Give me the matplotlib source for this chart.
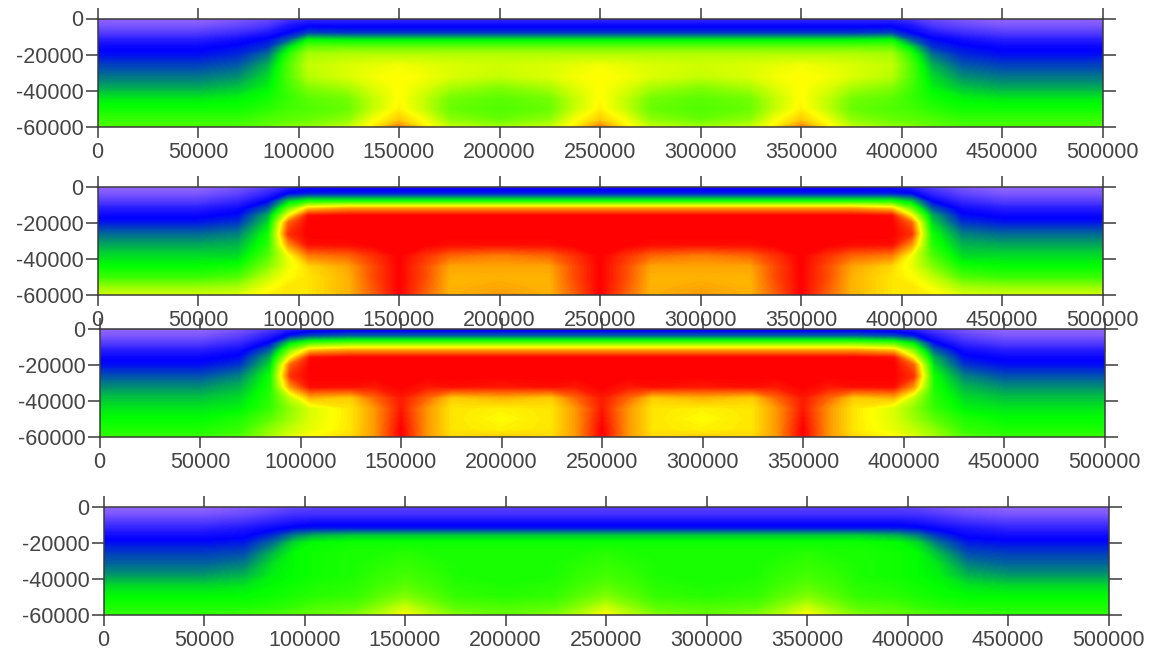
import matplotlib
matplotlib.use('Agg')
import matplotlib.pyplot as plt
from matplotlib.colors import LinearSegmentedColormap
import numpy as np

plt.rcParams['font.family'] = ['Liberation Sans', 'DejaVu Sans']
plt.rcParams['axes.unicode_minus'] = False

# x nodes of the grid, depth nodes of the grid
x_nodes = [0, 50000, 70000, 85000, 95000, 105000, 125000, 137000, 150000, 163000, 175000, 200000,
           225000, 237000, 250000, 263000, 275000, 300000, 325000, 337000, 350000, 363000, 375000,
           395000, 405000, 415000, 430000, 450000, 500000]
z_nodes = [0, -4000, -8000, -12000, -16000, -20000, -26000, -32000, -38000, -44000, -50000, -56000, -60000]

# which profile sits at each x node
column_names = ['edge', 'edge', 'f70', 'f85', 'f95', 'f105', 'near', 'side', 'hump', 'side', 'near', 'trough',
                'near', 'side', 'hump', 'side', 'near', 'trough', 'near', 'side', 'hump', 'side', 'near',
                'f105', 'f95', 'f85', 'f70', 'edge', 'edge']

# values: 0 purple, 1 blue, 2 green, 3 yellow, 4 red
panel1 = {
    'edge':   [.05, .20, .45, .75, .95, 1.05, 1.25, 1.45, 1.65, 1.9, 2.05, 2.2, 2.3],
    'f70':    [.15, .35, .60, .90, 1.05, 1.15, 1.35, 1.55, 1.75, 1.95, 2.05, 2.2, 2.3],
    'f85':    [.30, .50, .80, 1.05, 1.2, 1.45, 1.7, 1.85, 1.95, 2.05, 2.15, 2.3, 2.4],
    'f95':    [.50, .80, 1.0, 1.35, 1.85, 2.15, 2.3, 2.3, 2.25, 2.2, 2.25, 2.35, 2.5],
    'f105':   [.60, .95, 1.25, 2.0, 2.4, 2.65, 2.75, 2.7, 2.5, 2.35, 2.3, 2.4, 2.55],
    'near':   [.60, .95, 1.2, 1.95, 2.4, 2.7, 2.85, 2.85, 2.65, 2.45, 2.4, 2.55, 2.75],
    'side':   [.60, .95, 1.2, 1.95, 2.4, 2.7, 2.9, 2.95, 2.85, 2.75, 2.75, 2.95, 3.05],
    'hump':   [.60, .95, 1.2, 1.95, 2.4, 2.7, 2.95, 3.0, 3.0, 3.0, 3.05, 3.2, 3.5],
    'trough': [.60, .95, 1.2, 1.95, 2.4, 2.7, 2.8, 2.75, 2.5, 2.35, 2.3, 2.4, 2.6],
}
panel2 = {
    'edge':   [.05, .20, .45, .75, .95, 1.1, 1.4, 1.65, 1.85, 2.0, 2.2, 2.6, 2.8],
    'f70':    [.20, .40, .65, .90, 1.05, 1.2, 1.5, 1.7, 1.85, 2.05, 2.3, 2.65, 2.85],
    'f85':    [.45, .70, 1.0, 1.35, 1.7, 1.85, 2.05, 2.15, 2.3, 2.5, 2.75, 2.95, 3.05],
    'f95':    [.70, 1.05, 1.8, 2.4, 3.0, 3.6, 3.8, 3.4, 2.95, 2.9, 3.0, 3.1, 3.1],
    'f105':   [.80, 1.15, 2.1, 3.2, 3.95, 4.0, 4.0, 3.95, 3.5, 3.15, 3.1, 3.1, 3.1],
    'near':   [.85, 1.15, 2.1, 3.4, 4.0, 4.0, 4.0, 3.95, 3.6, 3.35, 3.3, 3.3, 3.3],
    'side':   [.85, 1.15, 2.1, 3.4, 4.0, 4.0, 4.0, 4.0, 3.8, 3.7, 3.7, 3.65, 3.6],
    'hump':   [.85, 1.15, 2.1, 3.4, 4.0, 4.0, 4.0, 4.0, 4.0, 4.0, 4.0, 4.0, 4.0],
    'trough': [.85, 1.15, 2.1, 3.4, 4.0, 4.0, 4.0, 3.95, 3.5, 3.35, 3.3, 3.35, 3.4],
}
panel3 = {
    'edge':   [.05, .20, .45, .75, .95, 1.05, 1.3, 1.55, 1.75, 1.9, 2.0, 2.1, 2.2],
    'f70':    [.20, .40, .65, .90, 1.05, 1.2, 1.5, 1.7, 1.85, 1.95, 2.1, 2.2, 2.3],
    'f85':    [.45, .75, 1.05, 1.4, 1.7, 1.85, 2.05, 2.1, 2.15, 2.2, 2.35, 2.55, 2.65],
    'f95':    [.70, 1.1, 1.9, 2.5, 3.0, 3.6, 3.8, 3.4, 2.75, 2.55, 2.6, 2.75, 2.85],
    'f105':   [.80, 1.3, 2.3, 3.25, 3.95, 4.0, 4.0, 3.95, 3.3, 2.85, 2.85, 2.9, 3.0],
    'near':   [.85, 1.4, 2.4, 3.4, 4.0, 4.0, 4.0, 3.95, 3.2, 3.1, 3.1, 3.1, 3.15],
    'side':   [.85, 1.4, 2.4, 3.4, 4.0, 4.0, 4.0, 3.9, 3.6, 3.4, 3.4, 3.4, 3.4],
    'hump':   [.85, 1.4, 2.4, 3.4, 4.0, 4.0, 4.0, 4.0, 3.9, 3.9, 3.95, 4.0, 4.0],
    'trough': [.85, 1.4, 2.4, 3.4, 4.0, 4.0, 4.0, 3.9, 3.3, 3.05, 3.0, 3.05, 3.2],
}
panel4 = {
    'edge':   [.05, .20, .45, .70, .90, 1.05, 1.25, 1.4, 1.6, 1.85, 2.0, 2.1, 2.2],
    'f70':    [.15, .30, .55, .80, .95, 1.1, 1.3, 1.5, 1.7, 1.9, 2.0, 2.1, 2.25],
    'f85':    [.25, .45, .70, .95, 1.2, 1.45, 1.75, 1.9, 1.95, 2.0, 2.05, 2.15, 2.3],
    'f95':    [.35, .55, .80, 1.05, 1.5, 1.85, 2.0, 2.0, 2.0, 2.05, 2.1, 2.2, 2.35],
    'f105':   [.40, .55, .85, 1.1, 1.7, 2.0, 2.05, 2.05, 2.05, 2.1, 2.15, 2.3, 2.4],
    'near':   [.40, .55, .85, 1.1, 1.8, 2.05, 2.1, 2.1, 2.1, 2.15, 2.2, 2.35, 2.5],
    'side':   [.40, .55, .85, 1.1, 1.8, 2.05, 2.1, 2.15, 2.2, 2.25, 2.35, 2.55, 2.7],
    'hump':   [.40, .55, .85, 1.1, 1.8, 2.05, 2.15, 2.2, 2.25, 2.35, 2.5, 2.8, 3.0],
    'trough': [.40, .55, .85, 1.1, 1.8, 2.05, 2.1, 2.1, 2.1, 2.1, 2.15, 2.3, 2.4],
}
panels = [panel1, panel2, panel3, panel4]

x_ticks = [0, 50000, 100000, 150000, 200000, 250000, 300000, 350000, 400000, 450000, 500000]
y_ticks = [0, -20000, -40000, -60000]

# left, right, top, bottom of each plot area in pixels
boxes = [(97.5, 1102.5, 18.5, 127),
         (97.5, 1102.5, 187, 295),
         (99.5, 1104.5, 329, 437),
         (103.5, 1108.5, 507, 615)]

W = 1157
H = 651
cmap = LinearSegmentedColormap.from_list('gridcol', [(0, '#9a6cff'), (.25, '#0000ff'), (.5, '#00ff00'),
                                                     (.75, '#ffff00'), (1, '#ff0000')], N=512)
levels = np.linspace(0, 4, 201)

fig = plt.figure(figsize=(W/100, H/100), dpi=100)

for panel, (l, r, t, b) in zip(panels, boxes):
    ax = fig.add_axes([l/W, 1-b/H, (r-l)/W, (b-t)/H])
    vals = np.array([panel[name] for name in column_names]).T
    ax.contourf(x_nodes, z_nodes, vals, levels=levels, cmap=cmap, vmin=0, vmax=4, extend='both')
    ax.set_xlim(0, 500000)
    ax.set_ylim(-60000, 0)
    ax.set_xticks(x_ticks)
    ax.set_yticks(y_ticks)
    ax.tick_params(axis='x', top=True, bottom=True, length=8, width=1.1, color='#3a3a3a',
                   labelsize=15.5, labelcolor='#444444', pad=3)
    ax.tick_params(axis='y', left=True, right=True, length=9, width=1.1, color='#3a3a3a',
                   labelsize=15.5, labelcolor='#444444', pad=1)
    for s in ax.spines.values():
        s.set_color('#3a3a3a')
        s.set_linewidth(1.1)

fig.savefig('out.png', dpi=100)
